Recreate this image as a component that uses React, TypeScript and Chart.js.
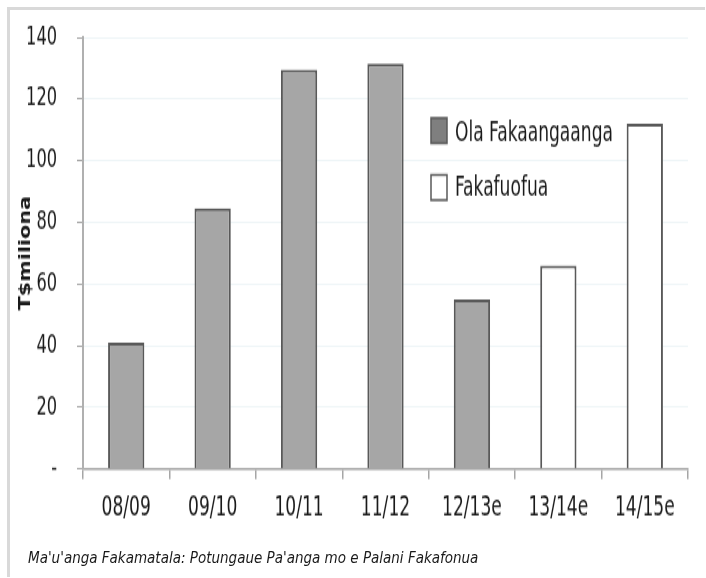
import React, { useEffect, useRef } from "react";
import { Chart, registerables } from "chart.js";

Chart.register(...registerables);

const categories = ["08/09", "09/10", "10/11", "11/12", "12/13e", "13/14e", "14/15e"];
const actualValues = [41, 84.5, 129.5, 131.5, 55, null, null];
const forecastValues = [null, null, null, null, null, 66, 112];
const seriesNames = ["Ola Fakaangaanga", "Fakafuofua"];
const yAxisTitle = "T$miliona";
const sourceNote = "Ma'u'anga Fakamatala: Potungaue Pa'anga mo e Palani Fakafonua";

// The reference is vertically stretched; draw at a reduced height and stretch with CSS.
const STRETCH = 1.44;
const CANVAS_W = 695;
const CANVAS_H = 394;

const FONT = "'DejaVu Sans Condensed', 'DejaVu Sans', sans-serif";
const GRAY_FILL = "#a6a6a6";
const EDGE = "#595959";

const legendPlugin = {
  id: "customLegend",
  afterDraw(chart: any) {
    const { ctx, chartArea } = chart;
    const items = [
      { label: seriesNames[0], fill: "#7f7f7f", y: 75, ty: 86 },
      { label: seriesNames[1], fill: "#ffffff", y: 114.5, ty: 124 },
    ];
    ctx.save();
    items.forEach((it) => {
      const x = chartArea.left + 348;
      ctx.fillStyle = it.fill;
      ctx.fillRect(x, it.y, 16, 17.5);
      ctx.strokeStyle = EDGE;
      ctx.lineWidth = 1.5;
      ctx.strokeRect(x, it.y, 16, 17.5);
      ctx.fillStyle = "#1a1a1a";
      ctx.font = `19px ${FONT}`;
      ctx.textBaseline = "middle";
      ctx.textAlign = "left";
      ctx.fillText(it.label, x + 24, it.ty);
    });
    ctx.restore();
  },
};

export default function App() {
  const ref = useRef<HTMLCanvasElement | null>(null);
  useEffect(() => {
    if (!ref.current) return;
    const chart = new Chart(ref.current, {
      type: "bar",
      data: {
        labels: categories,
        datasets: [
          {
            label: seriesNames[0],
            data: actualValues as any,
            backgroundColor: GRAY_FILL,
            borderColor: EDGE,
            borderWidth: 2,
            barPercentage: 0.42,
            categoryPercentage: 1,
            skipNull: true,
          } as any,
          {
            label: seriesNames[1],
            data: forecastValues as any,
            backgroundColor: "#ffffff",
            borderColor: EDGE,
            borderWidth: 2,
            barPercentage: 0.42,
            categoryPercentage: 1,
            skipNull: true,
          } as any,
        ],
      },
      options: {
        responsive: false,
        animation: false,
        layout: { padding: { left: 0, right: 17, top: 19, bottom: 0 } },
        plugins: {
          legend: { display: false },
          tooltip: { enabled: false },
        },
        scales: {
          x: {
            grid: {
              offset: true,
              drawOnChartArea: false,
              drawTicks: true,
              tickLength: 7,
              tickColor: "#a6a6a6",
              lineWidth: 1.5,
            },
            border: { display: true, color: "#a6a6a6", width: 1.5 },
            ticks: {
              color: "#1a1a1a",
              font: { family: FONT, size: 19 },
              padding: 9,
              maxRotation: 0,
            },
            afterFit: (s: any) => {
              s.height = 75.25;
              s.paddingLeft = 0;
              s.paddingRight = 0;
            },
          },
          y: {
            min: 0,
            max: 140,
            ticks: {
              stepSize: 20,
              color: "#1a1a1a",
              font: { family: FONT, size: 18 },
              padding: 20,
              callback: (v: any) => (v === 0 ? "-" : String(v)),
            },
            grid: {
              color: "#eef5f7",
              tickColor: "#a6a6a6",
              tickLength: 6,
              lineWidth: 1,
            },
            border: { display: true, color: "#b0b0b0", width: 2 },
            title: {
              display: true,
              text: yAxisTitle,
              color: "#1a1a1a",
              font: { family: FONT, size: 16, weight: "bold" },
              padding: { top: 6, bottom: 0 },
            },
            afterFit: (s: any) => {
              s.width = 73;
              s.paddingTop = 0;
              s.paddingBottom = 0;
            },
          },
        },
      },
      plugins: [legendPlugin],
    });
    return () => chart.destroy();
  }, []);

  return (
    <div
      style={{
        position: "absolute",
        left: 7,
        top: 7,
        width: CANVAS_W,
        height: 567,
        borderTop: "3px solid #d9d9d9",
        borderLeft: "3px solid #d9d9d9",
        background: "#ffffff",
        overflow: "hidden",
      }}
    >
      <canvas
        ref={ref}
        width={CANVAS_W}
        height={CANVAS_H}
        style={{
          display: "block",
          transform: `scaleY(${STRETCH})`,
          transformOrigin: "0 0",
        }}
      />
      <div
        style={{
          position: "absolute",
          left: 18,
          top: 539,
          fontFamily: FONT,
          fontStyle: "italic",
          fontSize: 15,
          lineHeight: "18px",
          color: "#1a1a1a",
          whiteSpace: "nowrap",
        }}
      >
        {sourceNote}
      </div>
    </div>
  );
}
